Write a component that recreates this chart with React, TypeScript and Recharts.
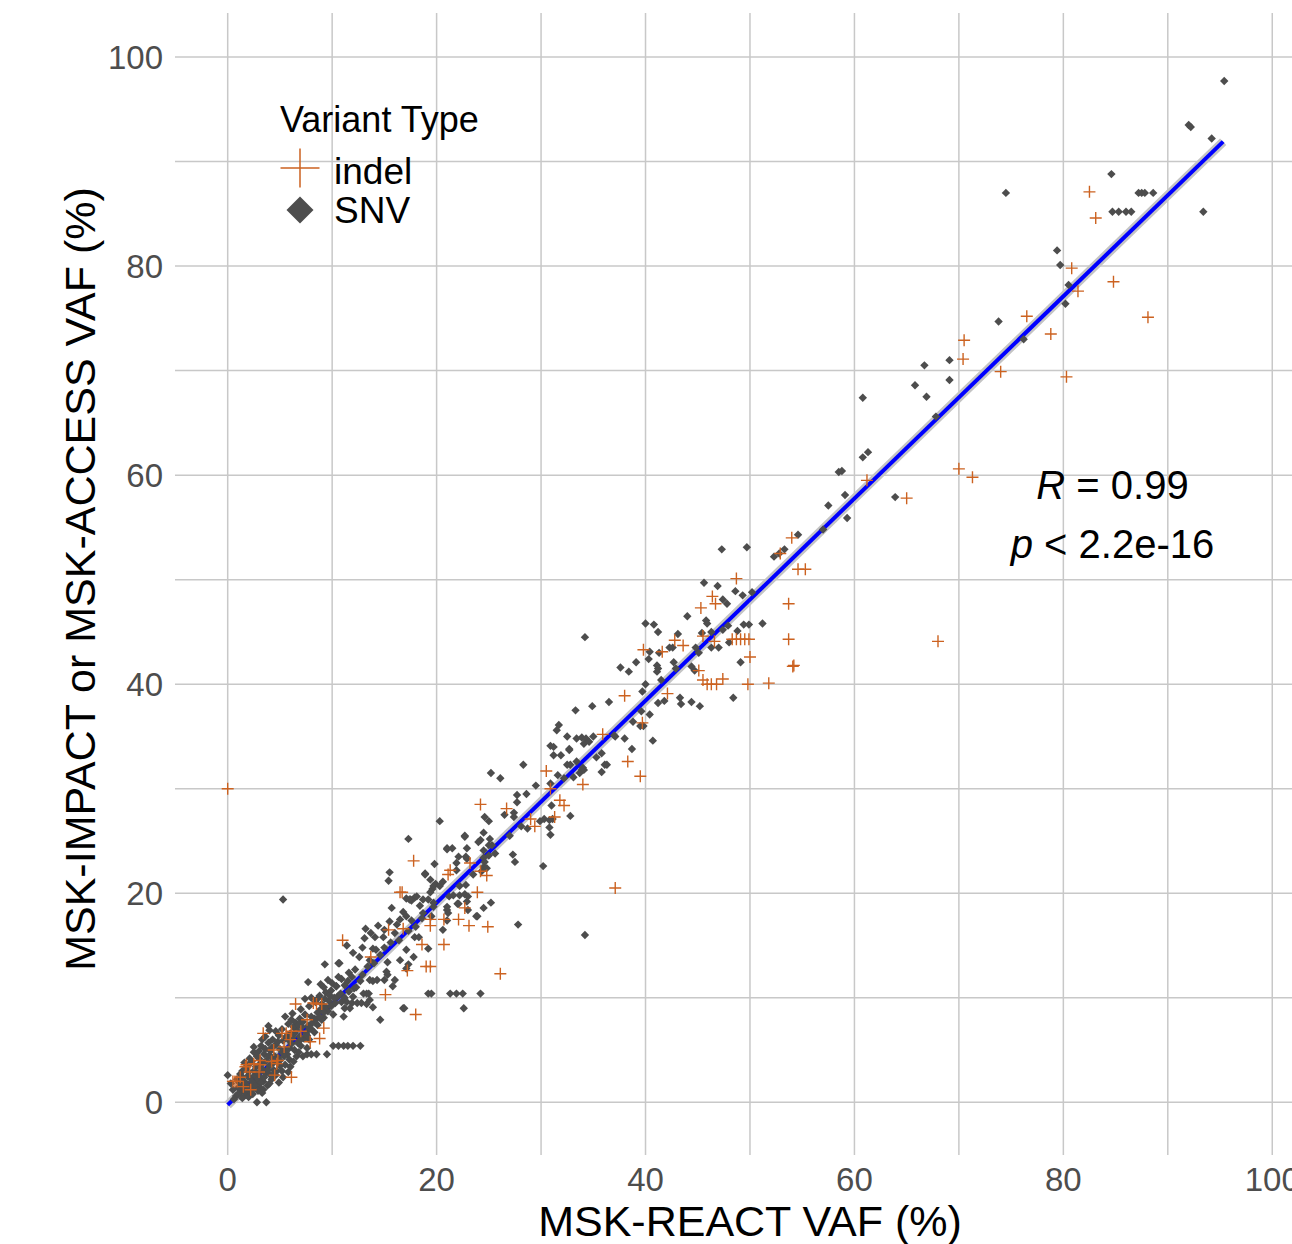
import React from 'react';
import { ScatterChart, Scatter, XAxis, YAxis, CartesianGrid, ReferenceLine } from 'recharts';

const FONT = '"Liberation Sans", Arial, Helvetica, sans-serif';

// axis ticks (gridlines every 10, labels every 20)
const X_TICKS = [0, 10, 20, 30, 40, 50, 60, 70, 80, 90, 100];
const Y_TICKS = [0, 10, 20, 30, 40, 50, 60, 70, 80, 90, 100];
const X_DOMAIN: [number, number] = [-5.045, 101.89];
const Y_DOMAIN: [number, number] = [-5.04, 104.21];

// linear fit (geom_smooth method = lm)
const FIT_X = [0, 95.3];
const FIT_Y = [-0.25, 91.9];

// SNV points [MSK-REACT VAF, MSK-IMPACT/ACCESS VAF]
const SNV_LOW: [number, number][] = [
  [0.8, 0.6], [1.2, 0.9], [1.5, 1.1], [1.0, 1.4], [0.5, 1.2], [2.8, 0], [3.7, 0], [1.8, 0.7], [2.2, 1.0], [1.4, 0.4],
  [0.3, 1.8], [1.9, 1.6], [2.4, 1.3], [2.7, 1.9], [3.0, 1.5], [1.6, 2.0], [2.2, 2.3], [3.4, 1.2], [3.8, 1.6], [2.6, 2.6], [0, 2.6],
  [1.2, 2.7], [2.0, 2.9], [3.1, 2.4], [3.6, 2.8], [4.2, 2.2], [4.6, 2.6], [4.9, 1.9], [3.3, 3.2], [2.7, 3.4], [4.0, 3.5], [5.2, 3.0], [1.8, 3.3],
  [2.3, 3.9], [3.0, 4.2], [3.7, 4.0], [4.4, 3.8], [4.8, 4.3], [5.5, 3.6], [5.9, 4.1], [3.5, 4.6], [2.5, 4.8], [4.1, 4.9], [5.2, 4.8], [6.3, 3.9], [6.6, 4.4],
  [2.5, 5.3], [3.2, 5.4], [3.9, 5.7], [4.6, 5.5], [5.3, 5.9], [5.9, 5.2], [6.4, 5.0], [7.0, 5.4], [6.8, 4.8], [4.3, 6.0], [5.6, 6.3], [3.6, 6.3], [7.3, 6.1], [7.8, 6.0],
  [4.6, 6.8], [5.2, 7.0], [6.0, 6.6], [6.6, 6.9], [7.1, 7.2], [5.8, 7.5], [6.5, 7.6], [7.8, 7.0], [8.3, 6.7], [8.6, 7.4], [4.0, 6.9], [3.9, 7.3],
  [6.9, 8.0], [7.4, 8.4], [8.0, 8.2], [8.6, 8.6], [9.2, 8.1], [6.2, 8.5], [7.0, 8.9], [7.8, 9.2], [9.0, 7.9], [9.6, 8.7], [10.1, 8.4], [5.5, 8.2],
  [8.4, 9.6], [9.0, 9.4], [9.7, 9.7], [10.3, 9.5], [10.9, 9.6], [11.4, 9.6], [11.9, 9.5], [12.4, 9.5], [12.8, 9.5], [13.3, 9.4], [13.6, 9.8],
  [8.0, 10.0], [8.8, 10.2], [7.4, 9.9], [13.9, 9.1], [11.2, 9.0], [11.7, 9.0],
  [9.4, 10.5], [9.9, 10.7], [10.4, 11.1], [11.2, 11.2], [10.0, 11.4], [9.2, 11.0], [9.6, 11.7], [10.6, 12.0], [8.9, 11.3], [12.7, 11.6], [13.9, 11.6],
  [13.0, 10.4], [13.5, 10.4], [7.7, 11.5], [9.3, 13.2], [10.6, 13.3], [15.2, 12.5], [15.8, 11.1], [14.6, 7.9], [16.8, 9.0], [11.1, 8.2],
  [10.1, 5.4], [10.6, 5.4], [11.1, 5.4], [11.5, 5.4], [12.0, 5.4], [12.7, 5.4],
  [7.6, 4.6], [8.0, 4.6], [8.5, 4.6], [9.5, 4.6],
  [1.1, 1.9], [2.0, 1.4], [2.9, 2.2], [3.4, 2.0], [4.0, 2.7], [4.4, 3.1], [3.0, 3.6], [5.0, 3.5], [4.5, 4.4], [5.7, 4.6], [6.1, 5.6], [5.0, 5.1],
  [6.7, 5.7], [7.5, 6.6], [7.2, 7.7], [8.1, 7.6], [8.9, 8.9], [9.4, 9.1], [2.1, 4.2], [1.6, 3.8], [3.3, 6.0], [4.9, 6.4], [6.3, 7.2], [8.3, 8.0],
  [10.5, 10.1], [11.6, 10.6], [12.1, 10.9], [5.3, 19.4],
  [0.6, 0.3], [1.0, 0.8], [1.3, 1.6], [1.7, 1.2], [2.0, 0.5], [2.4, 0.8], [2.6, 1.6], [0.9, 2.2], [1.4, 2.4], [1.9, 2.5], [2.3, 2.0], [2.9, 1.1],
  [3.2, 1.9], [3.5, 2.4], [2.5, 3.0], [2.9, 2.8], [3.8, 3.1], [4.3, 2.6], [4.7, 3.0], [3.4, 3.8], [3.9, 4.4], [4.2, 4.3], [5.0, 4.0], [5.4, 4.4],
  [5.6, 5.0], [4.8, 5.8], [4.2, 5.2], [3.0, 4.9], [5.9, 5.9], [6.2, 6.2], [6.9, 6.3], [6.4, 6.6], [7.6, 6.4], [7.0, 6.0], [7.7, 7.3], [8.0, 7.0],
  [8.4, 7.9], [8.8, 8.2], [6.1, 7.9], [6.8, 7.4], [9.2, 8.6], [9.9, 9.2], [10.2, 10.0], [8.6, 9.9], [9.3, 9.9], [9.8, 10.2], [10.8, 10.4], [11.2, 10.0],
  [12.0, 10.1], [3.6, 5.1], [2.8, 4.4], [2.0, 3.6], [1.4, 3.0], [5.8, 2.9], [6.0, 3.4], [7.2, 4.4], [7.6, 5.2], [5.3, 2.4], [4.0, 1.8], [3.3, 0.9],
];

const SNV_MID: [number, number][] = [
  [13.2, 16.6], [15.7, 18.6], [16.5, 17.5], [17.1, 19.5], [15.5, 17.3], [14.1, 15.8], [14.9, 15.8], [13.1, 15.7], [13.9, 14.7], [13.6, 13.6],
  [11.4, 15.0], [10.7, 13.3], [15.3, 13.4], [15.3, 12.2], [15.4, 21.2], [15.5, 22.0], [16.0, 11.7], [13.6, 11.7], [14.3, 11.7], [15.0, 11.7],
  [12.3, 11.0], [10.4, 11.1], [13.3, 10.4], [14.4, 16.9], [12.6, 13.9], [12.0, 14.3],
  [11.6, 12.4], [12.2, 12.7], [12.9, 12.2], [13.4, 13.0], [14.0, 13.3], [14.6, 14.1], [14.2, 14.6], [15.0, 14.8], [15.6, 15.3], [16.0, 16.2],
  [16.4, 15.5], [12.9, 14.8], [13.7, 16.2], [15.0, 16.5], [16.2, 17.0], [17.3, 16.4], [18.0, 16.8], [17.6, 17.4], [18.4, 18.8], [16.8, 18.2],
  [11.9, 12.0], [10.9, 11.8], [11.5, 11.6],
  [17.3, 25.2], [18.9, 21.9], [19.8, 22.8], [16.5, 13.6], [17.1, 14.6], [17.9, 15.8], [18.3, 15.8], [17.8, 13.9], [17.3, 13.2], [17.1, 12.8],
  [19.2, 14.7], [20.6, 16.5], [21.0, 17.4], [21.0, 18.4], [22.0, 19.0], [23.0, 18.4], [24.5, 18.6], [25.2, 19.1], [23.9, 17.8], [27.8, 17.0],
  [19.2, 10.4], [19.5, 10.4], [21.3, 10.4], [21.9, 10.4], [22.5, 10.4], [24.2, 10.4], [22.6, 9.0], [16.9, 9.0],
  [24.5, 24.1], [22.7, 25.5], [25.0, 24.6], [25.3, 24.6], [21.0, 24.3], [21.5, 24.3], [22.9, 24.3], [21.9, 22.9], [22.9, 23.3], [24.3, 22.1],
  [27.3, 23.7], [27.5, 23.0], [30.2, 22.6], [21.6, 19.8], [22.2, 19.8], [22.9, 19.2], [19.9, 20.9], [19.6, 20.4], [18.7, 19.4], [19.2, 19.4],
  [19.7, 18.7], [19.7, 19.1], [17.9, 19.6], [17.5, 19.4],
  [20.3, 26.9], [22.7, 25.4], [24.2, 25.1], [25.1, 25.2], [24.0, 24.9], [24.5, 25.8], [21.0, 24.2], [25.6, 23.8], [24.5, 23.4], [22.1, 23.5],
  [22.8, 23.5], [18.9, 21.8], [19.4, 21.3], [21.9, 22.2], [19.7, 20.7], [20.3, 20.7], [20.6, 21.1], [22.2, 20.7], [22.8, 20.8], [23.5, 21.8],
  [24.6, 23.0], [24.5, 22.5], [24.8, 22.4], [25.0, 23.6], [22.7, 19.9], [23.0, 19.7], [21.2, 19.7], [19.4, 20.1], [18.1, 19.7], [17.6, 19.3],
  [17.4, 19.4], [21.0, 18.7], [22.1, 19.0], [21.1, 18.1], [23.8, 17.8], [19.5, 17.8], [18.7, 18.1], [18.6, 17.6], [17.1, 17.8],
  [25.2, 31.5], [26.1, 31.0], [28.3, 32.3], [29.5, 30.3], [27.7, 29.4], [28.6, 29.5], [27.7, 28.7], [27.4, 27.7], [27.4, 27.3], [24.6, 27.3],
  [25.0, 26.9], [26.5, 27.5], [28.1, 26.4], [28.7, 26.2], [27.0, 25.5],
];

const SNV_UPPER: [number, number][] = [
  [30.9, 34.1], [31.2, 34.0], [31.2, 33.2], [31.9, 33.2], [32.7, 33.7], [32.5, 32.3], [32.8, 32.3], [33.7, 31.5], [33.9, 31.8], [34.1, 31.8],
  [35.3, 33.0], [35.8, 33.4], [36.3, 32.3], [35.8, 31.6], [38.7, 33.8], [31.0, 28.4], [29.9, 26.9], [30.3, 27.1], [30.8, 27.0], [31.1, 27.1],
  [30.8, 26.3], [30.9, 25.6], [32.8, 27.4], [31.6, 31.3], [32.2, 31.0], [33.1, 31.1], [30.9, 30.5],
  [31.7, 36.1], [31.5, 35.6], [32.5, 35.0], [33.4, 34.8], [33.9, 34.9], [34.3, 34.8], [34.1, 34.3], [34.6, 34.5], [35.0, 35.0], [37.1, 35.0],
  [38.0, 34.8], [32.7, 33.8], [33.4, 32.6], [34.0, 32.0], [36.1, 32.3], [34.2, 44.5], [34.9, 37.9], [33.3, 37.5], [36.5, 38.3], [37.6, 41.6],
  [38.4, 41.2], [39.1, 42.1], [40.3, 42.4], [41.1, 41.8], [41.2, 41.5], [41.1, 41.2], [42.7, 42.1], [42.9, 41.5], [44.4, 41.7], [44.7, 41.3],
  [49.1, 42.1], [41.5, 40.4], [40.0, 40.0], [39.7, 39.3], [43.3, 38.7], [41.2, 38.2], [41.8, 38.4], [43.4, 38.1], [44.4, 38.3], [45.2, 37.9],
  [48.4, 38.7], [39.6, 37.4], [40.4, 37.1], [38.8, 36.4], [39.5, 36.0], [39.8, 36.0], [40.7, 34.6], [34.2, 16.0], [37.0, 35.1],
  [40.0, 45.8], [40.8, 45.7], [41.2, 45.0], [43.1, 44.8], [42.3, 43.5], [42.6, 43.5], [44.8, 43.5], [46.3, 43.5], [47.0, 43.5], [48.0, 44.0],
  [40.4, 43.1], [41.3, 43.0], [45.1, 43.0], [44.0, 46.5], [45.8, 46.1], [45.9, 45.8], [45.4, 44.9], [46.3, 45.0], [47.4, 45.2], [47.9, 45.6],
  [48.8, 45.1], [49.4, 45.7], [49.9, 45.7], [51.2, 45.8], [45.6, 49.7], [46.9, 49.4], [48.6, 48.9], [49.3, 48.5], [50.2, 48.8], [47.4, 48.1],
  [47.8, 47.7], [47.3, 52.9], [49.7, 53.1],
];

const SNV_HIGH: [number, number][] = [
  [52.3, 52.2], [52.8, 52.5], [53.3, 52.9], [54.6, 54.3], [57.0, 54.8], [59.3, 55.9], [57.5, 57.1], [59.1, 58.1], [58.5, 60.3], [58.8, 60.4],
  [60.8, 61.7], [61.3, 62.2], [63.9, 57.9], [67.8, 65.6], [60.8, 67.4], [65.8, 68.6], [66.9, 67.5], [66.7, 70.5], [69.1, 71.0], [69.1, 69.1],
  [73.8, 74.7], [76.2, 73.0], [80.2, 76.4], [80.5, 78.2], [79.7, 80.1], [79.4, 81.5], [74.5, 87.0], [84.6, 88.8], [87.2, 87.0], [87.5, 87.0],
  [87.8, 87.0], [88.6, 87.0], [84.7, 85.2], [85.3, 85.2], [86.0, 85.2], [86.5, 85.2], [92.0, 93.5], [92.2, 93.3], [94.2, 92.2], [93.4, 85.2],
  [95.4, 97.7],
];

// indel points
const INDEL_LOW: [number, number][] = [
  [0, 30.0], [0.5, 2.0], [0.9, 2.0], [1.2, 2.4], [1.8, 3.6], [2.5, 3.7], [3.1, 3.6], [3.4, 6.6], [4.2, 3.9], [4.8, 4.0], [4.5, 2.6], [4.4, 5.0],
  [5.2, 6.6], [5.6, 6.6], [6.0, 6.0], [6.1, 2.4], [6.5, 9.4], [7.6, 7.9], [7.9, 5.8], [8.2, 9.5], [8.8, 6.1], [9.0, 9.4], [9.2, 7.1], [1.5, 1.5],
  [2.2, 1.2], [3.0, 2.9], [5.4, 5.3], [7.0, 6.8], [1.7, 3.4], [3.1, 4.0], [4.7, 3.7], [0.7, 2.0], [2.1, 2.9], [6.1, 6.8], [8.5, 9.4],
];

const INDEL_MID: [number, number][] = [
  [11.0, 15.5], [13.7, 13.9], [15.1, 10.3], [15.4, 16.5], [16.5, 20.1], [16.8, 16.6], [17.2, 12.6], [18.0, 8.4], [18.6, 15.1], [19.0, 13.0],
  [19.4, 13.0], [19.4, 17.5], [19.4, 16.9], [20.7, 17.5], [20.7, 15.1], [17.8, 23.1], [21.3, 22.2], [21.1, 21.8], [23.2, 22.9], [24.2, 22.1],
  [24.8, 21.7], [23.9, 20.1], [22.7, 18.6], [22.1, 17.5], [23.1, 16.9], [24.9, 16.8], [26.1, 12.3], [16.7, 20.1],
  [24.2, 28.5], [26.7, 28.1], [29.0, 27.1], [29.4, 26.4], [31.3, 27.3], [31.8, 28.9], [32.2, 28.4], [30.5, 31.7], [34.0, 30.4], [30.9, 30.0],
  [37.1, 20.5], [35.9, 35.2], [39.7, 36.3], [38.3, 32.6], [39.5, 31.2], [38.0, 38.9], [42.1, 39.1],
];

const INDEL_HIGH: [number, number][] = [
  [39.8, 43.3], [41.6, 43.1], [42.8, 44.2], [43.6, 43.7], [45.1, 41.3], [45.5, 40.4], [45.9, 40.0], [46.3, 40.0], [46.8, 40.0], [47.4, 40.5],
  [49.8, 40.0], [51.8, 40.1], [45.5, 44.6], [46.6, 44.1], [48.3, 44.3], [48.7, 44.3], [49.1, 44.3], [49.5, 44.3], [49.9, 44.3], [50.0, 42.6],
  [53.7, 44.3], [54.2, 41.8], [53.7, 47.7], [45.3, 47.3], [46.4, 48.4], [46.7, 47.7], [48.7, 50.1], [52.9, 52.5], [54.0, 54.0], [54.6, 51.0],
  [55.3, 51.0], [54.1, 41.7], [61.2, 59.5], [65.0, 57.8], [70.0, 60.6], [71.3, 59.8], [68.0, 44.1],
  [70.5, 72.9], [70.4, 71.1], [74.0, 69.9], [76.5, 75.2], [78.8, 73.5], [80.3, 69.4], [80.8, 79.8], [81.4, 77.6], [82.5, 87.1], [83.1, 84.6],
  [84.8, 78.5], [88.1, 75.1],
];

const toPoints = (rows: [number, number][]) => rows.map(([x, y]) => ({ x, y }));
const snvData = toPoints([...SNV_LOW, ...SNV_MID, ...SNV_UPPER, ...SNV_HIGH]);
const indelData = toPoints([...INDEL_LOW, ...INDEL_MID, ...INDEL_HIGH]);
const fitSegment = FIT_X.map((x, i) => ({ x, y: FIT_Y[i] }));

const SNV_COLOR = '#4d4d4d';
const INDEL_COLOR = '#cc6220';

// grid lines only at the tick values (no panel border)
const vGrid = (p: any) => {
  const s = p?.xAxis?.scale;
  if (typeof s === 'function') return X_TICKS.map((v) => s(v));
  const o = p.offset;
  return X_TICKS.map((v) => o.left + (o.width * (v - X_DOMAIN[0])) / (X_DOMAIN[1] - X_DOMAIN[0]));
};
const hGrid = (p: any) => {
  const s = p?.yAxis?.scale;
  if (typeof s === 'function') return Y_TICKS.map((v) => s(v));
  const o = p.offset;
  return Y_TICKS.map((v) => o.top + (o.height * (Y_DOMAIN[1] - v)) / (Y_DOMAIN[1] - Y_DOMAIN[0]));
};

const Diamond = (props: any) => {
  const { cx, cy } = props;
  const r = 4.2;
  return <path d={`M${cx},${cy - r}L${cx + r},${cy}L${cx},${cy + r}L${cx - r},${cy}Z`} fill={SNV_COLOR} />;
};

const Plus = (props: any) => {
  const { cx, cy } = props;
  const r = 6;
  return <path d={`M${cx - r},${cy}H${cx + r}M${cx},${cy - r}V${cy + r}`} stroke={INDEL_COLOR} strokeWidth={1.4} fill="none" />;
};

const XTick = (props: any) => {
  const v = props.payload.value;
  if (v % 20 !== 0) return <g />;
  return (
    <text x={props.x} y={props.y + 28} textAnchor="middle" fontSize={33} fill="#4d4d4d" fontFamily={FONT}>
      {v}
    </text>
  );
};

const YTick = (props: any) => {
  const v = props.payload.value;
  if (v % 20 !== 0) return <g />;
  return (
    <text x={props.x - 4} y={props.y} dy="0.36em" textAnchor="end" fontSize={33} fill="#4d4d4d" fontFamily={FONT}>
      {v}
    </text>
  );
};

export default function App() {
  return (
    <div style={{ position: 'fixed', left: 0, top: 0, width: 1292, height: 1244, background: '#fff', overflow: 'hidden' }}>
      <ScatterChart width={1292} height={1244} margin={{ top: 13, right: 0, bottom: 0, left: 0 }}>
        <CartesianGrid
          stroke="#c8c8c8"
          strokeWidth={1.5}
          verticalCoordinatesGenerator={vGrid}
          horizontalCoordinatesGenerator={hGrid}
        />
        <XAxis
          type="number"
          dataKey="x"
          domain={X_DOMAIN}
          ticks={X_TICKS}
          allowDataOverflow
          tickLine={false}
          axisLine={false}
          height={89}
          tick={XTick}
        />
        <YAxis
          type="number"
          dataKey="y"
          domain={Y_DOMAIN}
          ticks={Y_TICKS}
          allowDataOverflow
          tickLine={false}
          axisLine={false}
          width={175}
          tick={YTick}
        />
        <ReferenceLine segment={fitSegment} stroke="#c4c4c4" strokeWidth={9} />
        <Scatter data={snvData} shape={Diamond} isAnimationActive={false} />
        <Scatter data={indelData} shape={Plus} isAnimationActive={false} />
        <ReferenceLine segment={fitSegment} stroke="#0000ff" strokeWidth={4} />
      </ScatterChart>
      <svg
        width={1292}
        height={1244}
        style={{ position: 'absolute', left: 0, top: 0, pointerEvents: 'none' }}
        fontFamily={FONT}
      >
        <text x={280} y={132} fontSize={36} fill="#000">Variant Type</text>
        <path d="M280.5,168H319.5M300,148.5V187.5" stroke={INDEL_COLOR} strokeWidth={1.5} />
        <text x={334} y={184} fontSize={37} fill="#000">indel</text>
        <path d="M300,196.5L313.5,210L300,223.5L286.5,210Z" fill={SNV_COLOR} />
        <text x={334} y={223} fontSize={37} fill="#000">SNV</text>

        <text x={1112.5} y={499} fontSize={40} textAnchor="middle" fill="#000">
          <tspan fontStyle="italic">R</tspan> = 0.99
        </text>
        <text x={1112.5} y={558} fontSize={40} textAnchor="middle" fill="#000">
          <tspan fontStyle="italic">p</tspan> &lt; 2.2e-16
        </text>

        <text x={750} y={1236} fontSize={43} textAnchor="middle" fill="#000">MSK-REACT VAF (%)</text>
        <text x={95} y={579} fontSize={43} textAnchor="middle" fill="#000" transform="rotate(-90 95 579)">
          MSK-IMPACT or MSK-ACCESS VAF (%)
        </text>
      </svg>
    </div>
  );
}
